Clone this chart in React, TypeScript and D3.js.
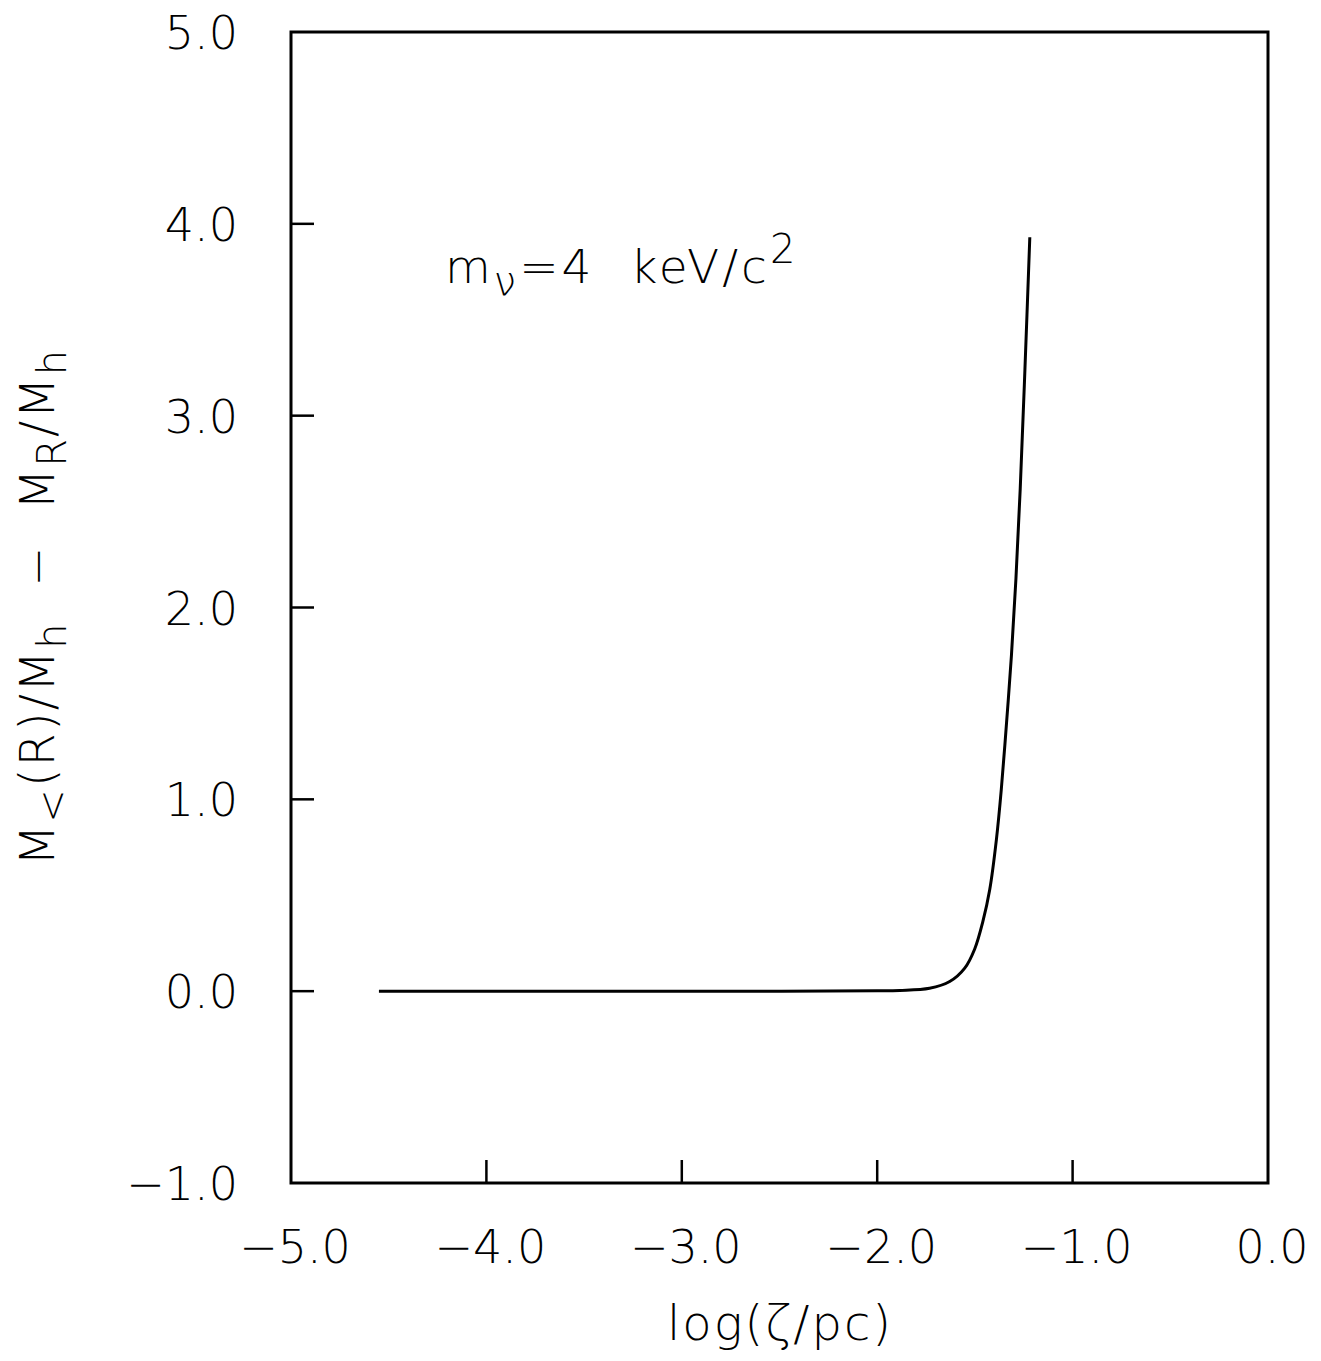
import React from "react";
import * as d3 from "d3";

// curve: log(zeta/pc) vs M<(R)/Mh - MR/Mh
const logZeta = [
  -4.55, -3.5, -2.5, -2.0, -1.885, -1.732, -1.629, -1.552, -1.501, -1.46,
  -1.424, -1.39, -1.365, -1.338, -1.313, -1.29, -1.268, -1.244, -1.219,
];
const massDiff = [
  0, 0, 0, 0.002, 0.004, 0.015, 0.05, 0.12, 0.22, 0.36,
  0.53, 0.79, 1.05, 1.4, 1.75, 2.15, 2.62, 3.24, 3.93,
];

const xTicks = [-5, -4, -3, -2, -1, 0];
const yTicks = [-1, 0, 1, 2, 3, 4, 5];

const W = 1321;
const H = 1361;
const FONT = "'DejaVu Sans', sans-serif";

export default function App() {
  const x = d3.scaleLinear().domain([-5, 0]).range([291, 1268]);
  const y = d3.scaleLinear().domain([-1, 5]).range([1183, 32]);
  const fmt = d3.format(".1f");

  const pts = logZeta.map((v, i) => [v, massDiff[i]] as [number, number]);
  const line = d3
    .line<[number, number]>()
    .x((d) => x(d[0]))
    .y((d) => y(d[1]))
    .curve(d3.curveCatmullRom.alpha(0.5));

  const tickLen = 23;

  return (
    <svg
      width={W}
      height={H}
      style={{ position: "absolute", left: 0, top: 0, background: "#fff" }}
      fontFamily={FONT}
    >
      <rect
        x={x(-5)}
        y={y(5)}
        width={x(0) - x(-5)}
        height={y(-1) - y(5)}
        fill="none"
        stroke="#000"
        strokeWidth={3}
      />
      {xTicks.slice(1, -1).map((t) => (
        <line
          key={"xt" + t}
          x1={x(t)}
          x2={x(t)}
          y1={y(-1)}
          y2={y(-1) - tickLen}
          stroke="#000"
          strokeWidth={2.5}
        />
      ))}
      {yTicks.slice(1, -1).map((t) => (
        <line
          key={"yt" + t}
          x1={x(-5)}
          x2={x(-5) + tickLen}
          y1={y(t)}
          y2={y(t)}
          stroke="#000"
          strokeWidth={2.5}
        />
      ))}
      {xTicks.map((t) => (
        <text
          key={"xl" + t}
          x={x(t) + 4}
          y={1263}
          fontSize={46}
          textAnchor="middle"
          fontWeight={200}
        >
          {fmt(t)}
        </text>
      ))}
      {yTicks.map((t) => (
        <text
          key={"yl" + t}
          x={238}
          y={y(t) + 17}
          fontSize={46}
          textAnchor="end"
          fontWeight={200}
        >
          {fmt(t)}
        </text>
      ))}
      <path d={line(pts) || ""} fill="none" stroke="#000" strokeWidth={3} />
      <text
        x={445}
        y={283}
        fontSize={47}
        fontWeight={200}
        letterSpacing={3}
        xmlSpace="preserve"
      >
        m
        <tspan dy={12} fontSize={40}>
          ν
        </tspan>
        <tspan dy={-12}>{"=4  keV/c"}</tspan>
        <tspan dy={-20} fontSize={40}>
          2
        </tspan>
      </text>
      <text
        x={780}
        y={1340}
        fontSize={48}
        textAnchor="middle"
        fontWeight={200}
        letterSpacing={2}
      >
        log(ζ/pc)
      </text>
      <text
        transform="translate(54,607) rotate(-90)"
        fontSize={48}
        textAnchor="middle"
        fontWeight={200}
        letterSpacing={2}
        xmlSpace="preserve"
      >
        M
        <tspan dy={12} fontSize={40}>
          &lt;
        </tspan>
        <tspan dy={-12}>(R)/M</tspan>
        <tspan dy={12} fontSize={40}>
          h
        </tspan>
        <tspan dy={-12}>{"  −  M"}</tspan>
        <tspan dy={12} fontSize={40}>
          R
        </tspan>
        <tspan dy={-12}>/M</tspan>
        <tspan dy={12} fontSize={40}>
          h
        </tspan>
      </text>
    </svg>
  );
}
